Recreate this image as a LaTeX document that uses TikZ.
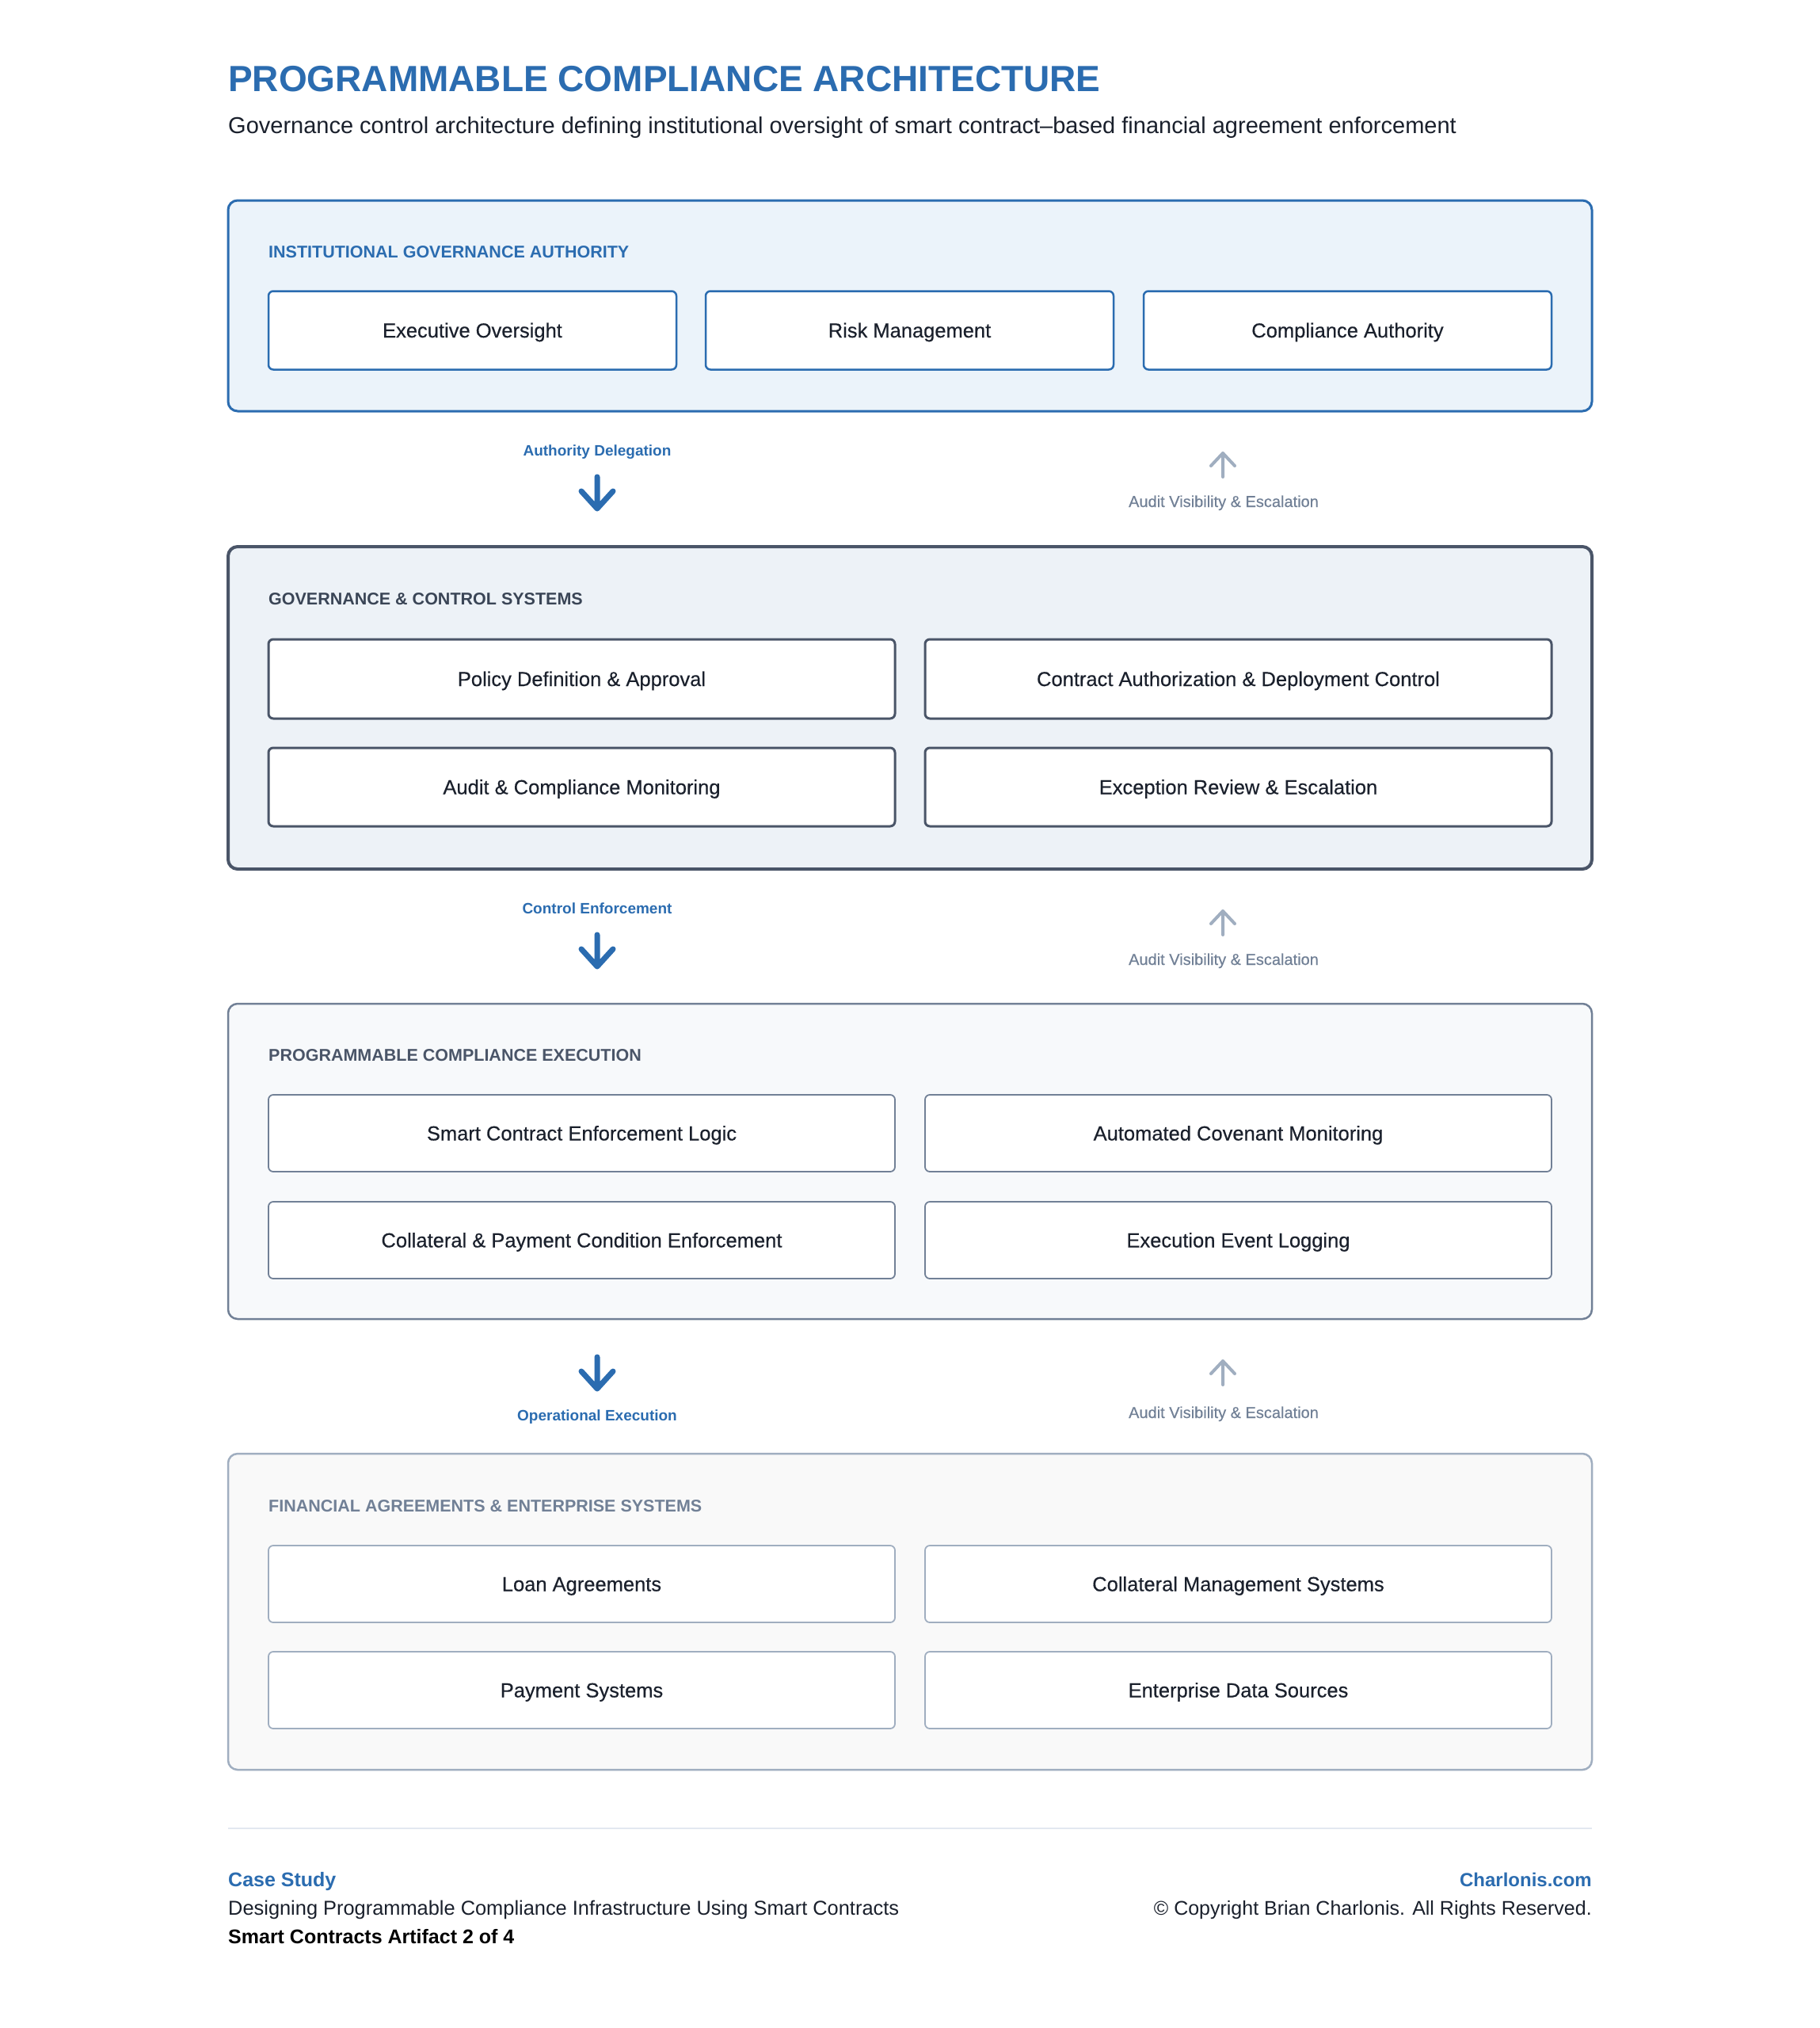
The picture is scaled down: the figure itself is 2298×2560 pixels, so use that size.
\documentclass[tikz,border=0pt]{standalone}
\usepackage{fontspec}
\setmainfont{Liberation Sans}
\newfontfamily\medfont[FakeBold=0.35]{Liberation Sans}
\definecolor{blueC}{RGB}{43,108,176}
\definecolor{fillA}{RGB}{235,243,250}
\definecolor{slateD}{RGB}{74,85,104}
\definecolor{slateT}{RGB}{58,69,86}
\definecolor{fillB}{RGB}{237,242,247}
\definecolor{grayM}{RGB}{113,128,150}
\definecolor{fillC}{RGB}{247,249,251}
\definecolor{grayL}{RGB}{160,174,192}
\definecolor{fillD}{RGB}{249,249,249}
\definecolor{inkC}{RGB}{26,32,44}
\definecolor{sepC}{RGB}{226,232,240}
\begin{document}
\begin{tikzpicture}[x=1pt,y=-1pt,
  outerbox/.style={rounded corners=12pt, minimum width=1722pt, inner sep=0pt},
  ibox/.style={draw, fill=white, rounded corners=6pt, inner sep=0pt, text height=18pt, text depth=0pt,
    font=\fontsize{25.5}{30}\medfont, text=inkC},
  boxA/.style={ibox, draw=blueC, line width=2.5pt, minimum width=515pt, minimum height=99pt},
  boxB/.style={ibox, draw=slateD, line width=3pt, minimum width=791pt},
  boxC/.style={ibox, draw=grayM, line width=1.8pt, minimum width=791pt, minimum height=97pt},
  boxD/.style={ibox, draw=grayL, line width=1.8pt, minimum width=791pt, minimum height=97pt},
  seclabel/.style={anchor=base west, inner sep=0pt, font=\fontsize{21.5}{26}\selectfont\bfseries},
  flowlabel/.style={anchor=base, inner sep=0pt, font=\fontsize{19}{23}\selectfont\bfseries, text=blueC},
  auditlabel/.style={anchor=base, inner sep=0pt, font=\fontsize{20}{24}\medfont, text=grayM},
  pics/downicon/.style={code={\draw[line width=7pt, draw=blueC, line cap=round, line join=round]
     (0,0) -- (0,40) (-20,18) -- (0,40) -- (20,18);}},
  pics/upicon/.style={code={\draw[line width=4pt, draw=grayL, line cap=round, line join=round]
     (0,30) -- (0,0) (-15,16) -- (0,0) -- (15,16);}},
  foot/.style={inner sep=0pt, font=\fontsize{25.4}{30}\selectfont}
]
\fill[white] (0,0) rectangle (2298,2560);
\useasboundingbox (0,0) rectangle (2298,2560);

% Title
\node[anchor=base west, inner sep=0pt, font=\fontsize{46}{52}\selectfont\bfseries, text=blueC] (title) at (288,115) {PROGRAMMABLE COMPLIANCE ARCHITECTURE};
\node[anchor=base west, inner sep=0pt, font=\fontsize{29}{34}\selectfont, text=inkC] (subtitle) at (288,168) {Governance control architecture defining institutional oversight of smart contract–based financial agreement enforcement};

% Layer 1
\node[outerbox, draw=blueC, fill=fillA, line width=3pt, minimum height=266pt] (L1) at (1149,386) {};
\node[seclabel, text=blueC] (L1t) at (339,325) {INSTITUTIONAL GOVERNANCE AUTHORITY};
\node[boxA] (a1) at (596.5,417) {Executive Oversight};
\node[boxA] (a2) at (1148.5,417) {Risk Management};
\node[boxA] (a3) at (1701.5,417) {Compliance Authority};

% Flow 1
\node[flowlabel] (f1) at (754,575) {Authority Delegation};
\pic at (754,602) {downicon};
\pic at (1544,572) {upicon};
\node[auditlabel] (u1) at (1545,640) {Audit Visibility \& Escalation};

% Layer 2
\node[outerbox, draw=slateD, fill=fillB, line width=4pt, minimum height=407pt] (L2) at (1149,893.5) {};
\node[seclabel, text=slateT] (L2t) at (339,763) {GOVERNANCE \& CONTROL SYSTEMS};
\node[boxB, minimum height=100pt] (b1) at (734.5,857) {Policy Definition \& Approval};
\node[boxB, minimum height=100pt] (b2) at (1563.5,857) {Contract Authorization \& Deployment Control};
\node[boxB, minimum height=99pt] (b3) at (734.5,993.5) {Audit \& Compliance Monitoring};
\node[boxB, minimum height=99pt] (b4) at (1563.5,993.5) {Exception Review \& Escalation};

% Flow 2
\node[flowlabel] (f2) at (754,1153) {Control Enforcement};
\pic at (754,1180) {downicon};
\pic at (1544,1150) {upicon};
\node[auditlabel] (u2) at (1545,1218) {Audit Visibility \& Escalation};

% Layer 3
\node[outerbox, draw=grayM, fill=fillC, line width=2.5pt, minimum height=398pt] (L3) at (1149,1466) {};
\node[seclabel, text=slateD] (L3t) at (339,1339) {PROGRAMMABLE COMPLIANCE EXECUTION};
\node[boxC] (c1) at (734.5,1430.5) {Smart Contract Enforcement Logic};
\node[boxC] (c2) at (1563.5,1430.5) {Automated Covenant Monitoring};
\node[boxC] (c3) at (734.5,1565.5) {Collateral \& Payment Condition Enforcement};
\node[boxC] (c4) at (1563.5,1565.5) {Execution Event Logging};

% Flow 3
\pic at (754,1713) {downicon};
\node[flowlabel] (f3) at (754,1793) {Operational Execution};
\pic at (1544,1718) {upicon};
\node[auditlabel] (u3) at (1545,1790) {Audit Visibility \& Escalation};

% Layer 4
\node[outerbox, draw=grayL, fill=fillD, line width=2.5pt, minimum height=399pt] (L4) at (1149,2034.5) {};
\node[seclabel, text=grayM] (L4t) at (339,1908) {FINANCIAL AGREEMENTS \& ENTERPRISE SYSTEMS};
\node[boxD] (d1) at (734.5,1999.5) {Loan Agreements};
\node[boxD] (d2) at (1563.5,1999.5) {Collateral Management Systems};
\node[boxD] (d3) at (734.5,2133.5) {Payment Systems};
\node[boxD] (d4) at (1563.5,2133.5) {Enterprise Data Sources};

% Footer
\coordinate (sepL) at (288,2308);
\coordinate (sepR) at (2010,2308);
\draw[sepC, line width=2pt] (sepL) -- (sepR);
\node[foot, anchor=base west, text=blueC, font=\fontsize{25}{30}\selectfont\bfseries] (cs) at (288,2381) {Case Study};
\node[foot, anchor=base west, text=inkC] (ds) at (288,2417) {Designing Programmable Compliance Infrastructure Using Smart Contracts};
\node[foot, anchor=base west, text=black, font=\fontsize{25}{30}\selectfont\bfseries] (sa) at (288,2453) {Smart Contracts Artifact 2 of 4};
\node[foot, anchor=base east, text=blueC, font=\fontsize{24}{30}\selectfont\bfseries] (cw) at (2010,2381) {Charlonis.com};
\node[foot, anchor=base east, text=inkC, font=\fontsize{25}{30}\selectfont] (cp) at (2010,2417) {© Copyright Brian Charlonis. All Rights Reserved.};
\end{tikzpicture}
\end{document}
